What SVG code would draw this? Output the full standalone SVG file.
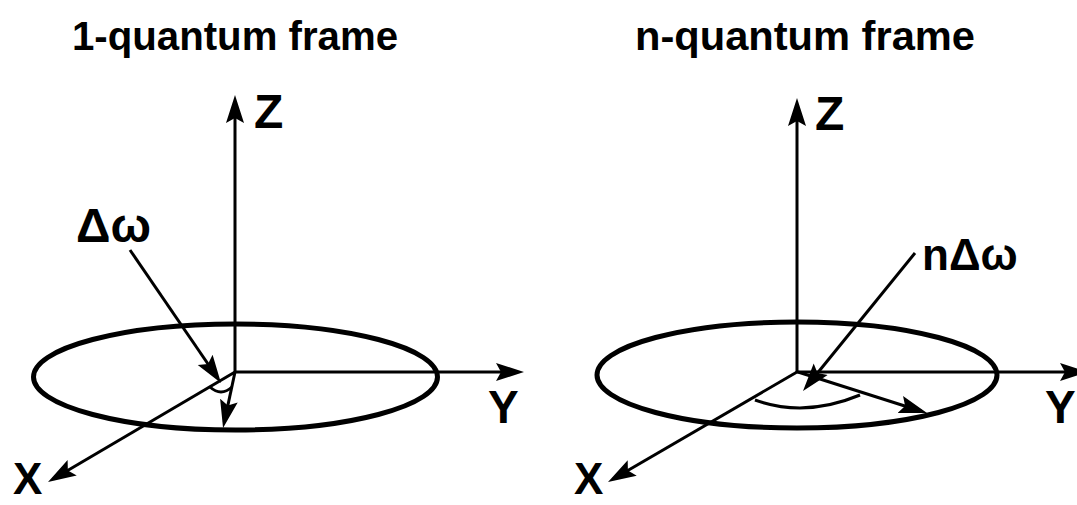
<svg xmlns="http://www.w3.org/2000/svg" width="1077" height="505" viewBox="0 0 1077 505">
<style>
.t{font-family:"Liberation Sans",Arial,sans-serif;font-weight:bold;fill:#000}
.ax{stroke:#000;stroke-width:3;fill:none;marker-end:url(#ah)}
.ln{stroke:#000;stroke-width:3;fill:none}
.el{stroke:#000;stroke-width:5;fill:none}
</style>
<defs>
<marker id="ah" viewBox="0 -10 30 20" refX="22" refY="0" markerWidth="30" markerHeight="20" markerUnits="userSpaceOnUse" orient="auto">
<path d="M0,-9 L28,0 L0,9 L5,0 Z" fill="#000"/>
</marker>
</defs>
<rect width="1077" height="505" fill="#fff"/>
<g id="left-frame">
<text class="t" x="235" y="50" font-size="40" text-anchor="middle" textLength="326" lengthAdjust="spacingAndGlyphs">1-quantum frame</text>
<ellipse class="el" cx="235.5" cy="377" rx="202" ry="53"/>
<text class="t" x="254" y="128" font-size="48">Z</text>
<text class="t" x="488" y="423" font-size="46">Y</text>
<text class="t" x="13" y="494" font-size="44">X</text>
<text class="t" x="76" y="242" font-size="48">Δω</text>
</g>
<g id="right-frame">
<text class="t" x="805" y="50" font-size="40" text-anchor="middle" textLength="340" lengthAdjust="spacingAndGlyphs">n-quantum frame</text>
<ellipse class="el" cx="797" cy="375" rx="200" ry="53"/>
<text class="t" x="815" y="130" font-size="48">Z</text>
<text class="t" x="1045" y="423" font-size="46">Y</text>
<text class="t" x="574" y="494" font-size="44">X</text>
<text class="t" x="922" y="270" font-size="44">nΔω</text>
</g>
<g id="connectors">
<line class="ax" x1="235" y1="372" x2="235" y2="101"/>
<line class="ax" x1="235" y1="372" x2="518" y2="372"/>
<line class="ax" x1="235" y1="372" x2="53.2" y2="479"/>
<line class="ax" x1="130" y1="250" x2="217.6" y2="378"/>
<line class="ax" x1="235" y1="372" x2="224.3" y2="422.1"/>
<path class="ln" d="M210,387 Q221,397 232,387"/>
<line class="ax" x1="797" y1="372" x2="797" y2="104"/>
<line class="ax" x1="797" y1="372" x2="1082" y2="372"/>
<line class="ax" x1="797" y1="372" x2="613.2" y2="479"/>
<line class="ax" x1="915" y1="253" x2="806.8" y2="386.3"/>
<line class="ax" x1="798" y1="372" x2="921.3" y2="411.2"/>
<path class="ln" d="M755,400 Q805,418 860,395"/>
</g>
</svg>
